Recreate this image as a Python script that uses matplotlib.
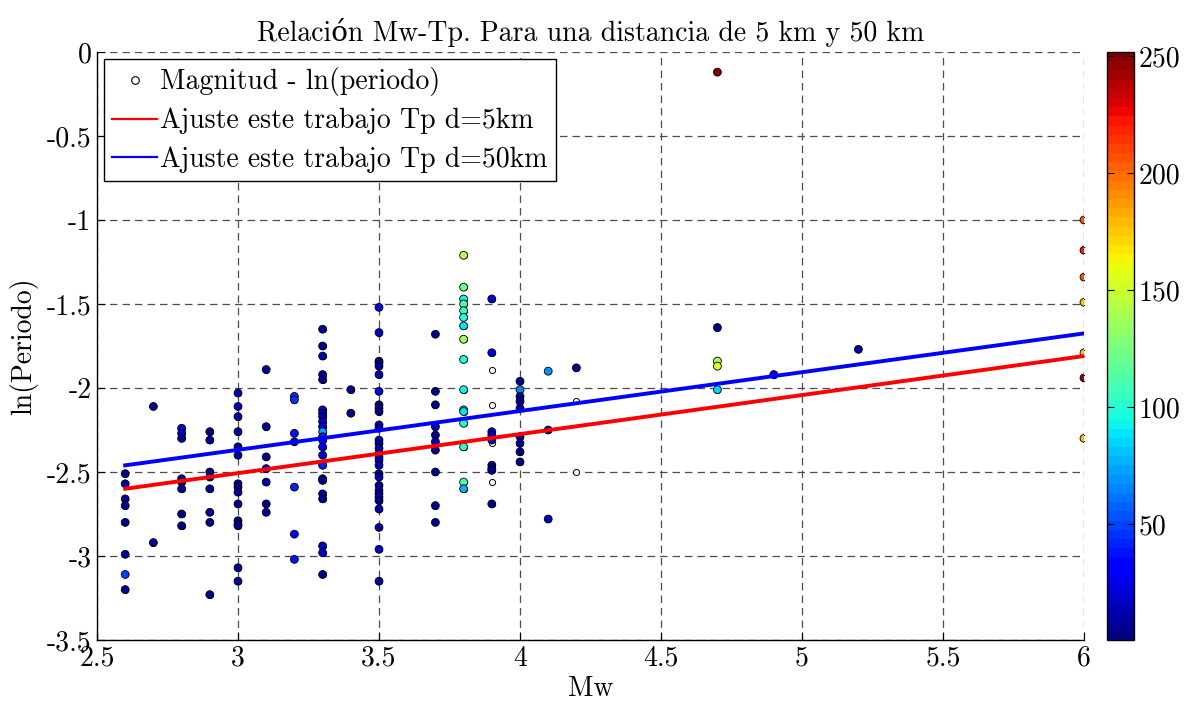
import numpy as np
import matplotlib
matplotlib.use("Agg")
import matplotlib.pyplot as plt
from matplotlib.colors import Normalize
from matplotlib.lines import Line2D

plt.rcParams['font.family'] = ['cmr10', 'DejaVu Serif']
plt.rcParams['axes.unicode_minus'] = False
plt.rcParams['mathtext.fontset'] = 'cm'

# Magnitude (Mw), ln(period) and colour value for every event with a colour value
mw_vals = (
    [2.6] * 8 + [2.7] * 2 + [2.8] * 8 + [2.9] * 8 + [3.0] * 15 + [3.1] * 7
    + [3.2] * 7 + [3.3] * 23 + [3.4] * 2 + [3.5] * 30 + [3.7] * 10
    + [3.8] * 16 + [3.9] * 9 + [4.0] * 9 + [4.1] * 3 + [4.2] * 1
    + [4.7] * 5 + [4.9] * 1 + [5.2] * 1 + [6.0] * 7
)
ln_period = (
    # 2.6
    [-2.51, -2.57, -2.66, -2.70, -2.80, -2.99, -3.11, -3.20]
    # 2.7
    + [-2.11, -2.92]
    # 2.8
    + [-2.24, -2.27, -2.30, -2.54, -2.56, -2.60, -2.75, -2.82]
    # 2.9
    + [-2.26, -2.31, -2.50, -2.53, -2.60, -2.74, -2.80, -3.23]
    # 3.0
    + [-2.03, -2.11, -2.17, -2.26, -2.35, -2.40, -2.57, -2.59, -2.62, -2.69,
       -2.79, -2.81, -2.82, -3.07, -3.15]
    # 3.1
    + [-1.89, -2.23, -2.41, -2.48, -2.56, -2.69, -2.74]
    # 3.2
    + [-2.05, -2.07, -2.27, -2.32, -2.59, -2.87, -3.02]
    # 3.3
    + [-1.65, -1.75, -1.81, -1.92, -1.95, -2.13, -2.15, -2.17, -2.20, -2.23,
       -2.26, -2.29, -2.35, -2.40, -2.46, -2.54, -2.55, -2.63, -2.66, -2.94,
       -2.98, -3.11, -2.31]
    # 3.4
    + [-2.01, -2.15]
    # 3.5
    + [-1.52, -1.67, -1.84, -1.85, -1.87, -1.92, -2.02, -2.10, -2.12, -2.14,
       -2.22, -2.24, -2.31, -2.33, -2.36, -2.39, -2.41, -2.43, -2.46, -2.51,
       -2.53, -2.58, -2.61, -2.63, -2.65, -2.67, -2.72, -2.83, -2.96, -3.15]
    # 3.7
    + [-1.68, -2.02, -2.10, -2.23, -2.28, -2.32, -2.37, -2.50, -2.70, -2.80]
    # 3.8
    + [-1.21, -1.40, -1.47, -1.50, -1.54, -1.58, -1.63, -1.71, -1.83, -2.01,
       -2.13, -2.14, -2.21, -2.35, -2.56, -2.60]
    # 3.9
    + [-1.47, -1.79, -2.26, -2.28, -2.31, -2.46, -2.48, -2.49, -2.69]
    # 4.0
    + [-1.96, -2.01, -2.05, -2.08, -2.12, -2.29, -2.33, -2.38, -2.44]
    # 4.1
    + [-1.90, -2.25, -2.78]
    # 4.2
    + [-1.88]
    # 4.7
    + [-0.12, -1.64, -1.84, -1.87, -2.01]
    # 4.9
    + [-1.92]
    # 5.2
    + [-1.77]
    # 6.0
    + [-1.00, -1.18, -1.34, -1.49, -1.79, -1.94, -2.30]
)
color_vals = (
    [8, 10, 8, 10, 8, 12, 48, 8]
    + [8, 8]
    + [22, 18, 10, 14, 8, 10, 8, 8]
    + [8, 10, 8, 10, 8, 10, 8, 8]
    + [14, 18, 16, 10, 8, 12, 8, 8, 10, 8, 8, 10, 8, 12, 10]
    + [10, 14, 8, 30, 10, 8, 12]
    + [45, 45, 38, 8, 40, 28, 38]
    + [8, 8, 10, 16, 8, 24, 20, 16, 22, 26, 72, 40, 30, 22, 40, 8, 8, 10, 8,
       20, 22, 8, 28]
    + [8, 8]
    + [26, 20, 8, 10, 8, 20, 24, 8, 10, 8, 20, 14, 22, 10, 16, 20, 12, 18,
       14, 8, 16, 10, 18, 12, 20, 10, 14, 12, 18, 12]
    + [8, 8, 8, 20, 8, 18, 8, 8, 8, 8]
    + [142, 122, 92, 108, 105, 95, 90, 140, 98, 92, 92, 90, 95, 100, 108, 78]
    + [22, 25, 25, 20, 15, 10, 14, 8, 8]
    + [8, 65, 12, 8, 14, 10, 8, 8, 8]
    + [70, 25, 20]
    + [8]
    + [250, 8, 138, 155, 85]
    + [25]
    + [10]
    + [205, 222, 205, 180, 180, 242, 178]
)

# Events without a colour value (drawn only as hollow markers)
mw_plain = [3.9, 3.9, 3.9, 3.9, 4.2, 4.2]
ln_period_plain = [-1.89, -2.10, -2.33, -2.56, -2.08, -2.50]

# Linear fits ln(Tp) = a * Mw + b for the two distances
fit_mw_range = [2.6, 6.0]
fit_5km = (0.2324, -3.204)
fit_50km = (0.2310, -3.061)

color_limits = (0.4, 251.7)
cbar_ticks = [50, 100, 150, 200, 250]
x_ticks = [2.5, 3, 3.5, 4, 4.5, 5, 5.5, 6]
y_ticks = [0, -0.5, -1, -1.5, -2, -2.5, -3, -3.5]

FS = 20

W, H = 1201, 707
fig = plt.figure(figsize=(W / 100, H / 100), dpi=100)
ax = fig.add_axes([97 / W, (H - 640) / H, (1084 - 97) / W, (640 - 52) / H])
cax = fig.add_axes([1107 / W, (H - 640) / H, 27 / W, (640 - 52) / H])

cmap = plt.get_cmap('jet', 64)
norm = Normalize(*color_limits)

all_mw = list(mw_vals) + mw_plain
all_ln = list(ln_period) + ln_period_plain
ax.plot(all_mw, all_ln, linestyle='none', marker='o', markersize=4.4,
        markerfacecolor='white', markeredgecolor='black',
        markeredgewidth=0.7, zorder=3)

sc = ax.scatter(mw_vals, ln_period, c=color_vals, cmap=cmap, norm=norm,
                s=32, edgecolors='black', linewidths=0.6, zorder=4)

xf = np.array(fit_mw_range)
ax.plot(xf, fit_5km[0] * xf + fit_5km[1], color='red', lw=2.8, zorder=5)
ax.plot(xf, fit_50km[0] * xf + fit_50km[1], color='blue', lw=2.8, zorder=5)

ax.set_xlim(2.5, 6)
ax.set_ylim(-3.5, 0)
ax.set_xticks(x_ticks)
ax.set_yticks(y_ticks)
ax.set_xticklabels(['%g' % v for v in x_ticks])
ax.set_yticklabels(['%g' % v for v in y_ticks])
ax.tick_params(direction='in', length=6, width=0.8, labelsize=FS,
               top=False, right=False, pad=4)
for side in ('top', 'right'):
    ax.spines[side].set_visible(False)
for side in ('left', 'bottom'):
    ax.spines[side].set_linewidth(1.0)

ax.grid(True, color='0.3', linestyle=(0, (6, 4)), linewidth=0.9)
ax.set_axisbelow(True)

ax.set_xlabel('Mw', fontsize=FS, labelpad=3)
ax.set_ylabel('ln(Periodo)', fontsize=FS, labelpad=6)
ax.set_title('Relación Mw-Tp. Para una distancia de 5 km y 50 km',
             fontsize=FS, pad=8)

handles = [
    Line2D([], [], linestyle='none', marker='o', markersize=5.5,
           markerfacecolor='white', markeredgecolor='black',
           markeredgewidth=0.8),
    Line2D([], [], color='red', lw=1.6),
    Line2D([], [], color='blue', lw=1.6),
]
labels = ['Magnitud - ln(periodo)', 'Ajuste este trabajo Tp d=5km',
          'Ajuste este trabajo Tp d=50km']
leg = ax.legend(handles, labels, loc='upper left', fontsize=FS,
                frameon=True, fancybox=False, framealpha=1,
                edgecolor='black', handlelength=1.6, handletextpad=0.12,
                borderpad=0.3, labelspacing=0.42, borderaxespad=0.25)
leg.get_frame().set_linewidth(1.0)
leg.set_zorder(10)

cb = fig.colorbar(sc, cax=cax, ticks=cbar_ticks)
cb.outline.set_linewidth(1.0)
cax.tick_params(direction='in', length=5, width=0.8, labelsize=FS,
                left=True, right=True, labelleft=False, labelright=True,
                pad=3)

fig.savefig('out.png', dpi=100)
